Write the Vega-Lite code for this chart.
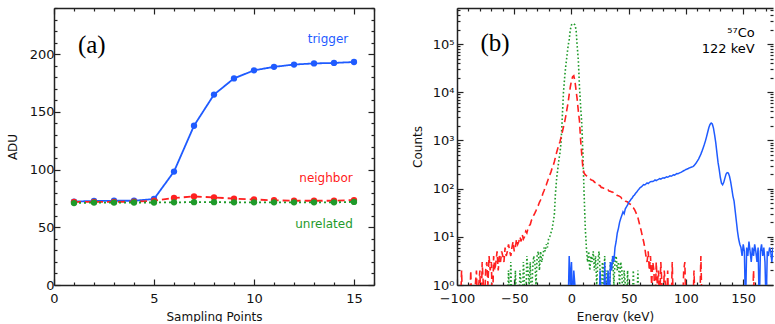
{
  "$schema": "https://vega.github.io/schema/vega-lite/v6.json",
  "padding": {"left": 6, "top": 2, "right": 0, "bottom": 0},
  "bounds": "flush",
  "spacing": 83,
  "config": {
    "view": {"stroke": null},
    "font": "DejaVu Sans",
    "axis": {"grid": false, "domainColor": "#222", "domainWidth": 1.5, "tickColor": "#222", "tickWidth": 1.2, "labelColor": "#111", "titleColor": "#111", "labelFont": "DejaVu Sans", "titleFont": "DejaVu Sans", "labelFontSize": 13, "titleFontSize": 12, "titleFontWeight": "normal", "labelFlush": false, "labelOverlap": false}
  },
  "datasets": {
    "adu": [
      {"sample":1,"series":"trigger","adu":72.3},{"sample":2,"series":"trigger","adu":72.8},{"sample":3,"series":"trigger","adu":73},{"sample":4,"series":"trigger","adu":73},{"sample":5,"series":"trigger","adu":74.5},{"sample":6,"series":"trigger","adu":98.3},{"sample":7,"series":"trigger","adu":138},{"sample":8,"series":"trigger","adu":165},{"sample":9,"series":"trigger","adu":179},{"sample":10,"series":"trigger","adu":186},{"sample":11,"series":"trigger","adu":189},{"sample":12,"series":"trigger","adu":191},{"sample":13,"series":"trigger","adu":192},{"sample":14,"series":"trigger","adu":192.4},{"sample":15,"series":"trigger","adu":193.2},
      {"sample":1,"series":"neighbor","adu":72},{"sample":2,"series":"neighbor","adu":72},{"sample":3,"series":"neighbor","adu":72},{"sample":4,"series":"neighbor","adu":72.2},{"sample":5,"series":"neighbor","adu":73},{"sample":6,"series":"neighbor","adu":75.4},{"sample":7,"series":"neighbor","adu":76.7},{"sample":8,"series":"neighbor","adu":75.9},{"sample":9,"series":"neighbor","adu":74.8},{"sample":10,"series":"neighbor","adu":74.1},{"sample":11,"series":"neighbor","adu":73.4},{"sample":12,"series":"neighbor","adu":73},{"sample":13,"series":"neighbor","adu":73},{"sample":14,"series":"neighbor","adu":73},{"sample":15,"series":"neighbor","adu":73.6},
      {"sample":1,"series":"unrelated","adu":71},{"sample":2,"series":"unrelated","adu":71.4},{"sample":3,"series":"unrelated","adu":71.4},{"sample":4,"series":"unrelated","adu":71.5},{"sample":5,"series":"unrelated","adu":71.5},{"sample":6,"series":"unrelated","adu":71.6},{"sample":7,"series":"unrelated","adu":71.8},{"sample":8,"series":"unrelated","adu":71.8},{"sample":9,"series":"unrelated","adu":71.6},{"sample":10,"series":"unrelated","adu":71.6},{"sample":11,"series":"unrelated","adu":71.6},{"sample":12,"series":"unrelated","adu":71.6},{"sample":13,"series":"unrelated","adu":71.6},{"sample":14,"series":"unrelated","adu":71.6},{"sample":15,"series":"unrelated","adu":72}
    ],
    "green": [
      {"e":-58,"c":0.3},{"e":-56,"c":0.3},{"e":-55,"c":2},{"e":-54,"c":0.3},{"e":-53,"c":3},{"e":-52,"c":0.3},{"e":-50,"c":0.3},{"e":-49,"c":2},{"e":-48,"c":0.3},{"e":-47,"c":1},{"e":-46,"c":0.3},{"e":-45,"c":2},{"e":-44,"c":1},{"e":-43,"c":0.3},{"e":-42,"c":3},{"e":-41,"c":1},{"e":-40,"c":0.3},{"e":-39,"c":4},{"e":-38,"c":2},{"e":-37,"c":1},{"e":-36,"c":3},{"e":-35,"c":0.3},{"e":-34,"c":2},{"e":-33,"c":4},{"e":-32,"c":3},{"e":-31,"c":1},{"e":-30,"c":4},{"e":-29,"c":5},{"e":-28,"c":2},{"e":-27,"c":5},{"e":-26,"c":3},{"e":-25,"c":4},{"e":-24,"c":6},{"e":-23,"c":5},{"e":-22,"c":7},{"e":-21,"c":6},{"e":-20,"c":9},{"e":-19,"c":10},{"e":-18,"c":12},{"e":-17,"c":14},{"e":-16,"c":20},{"e":-15,"c":28},{"e":-14,"c":80},{"e":-13,"c":160},{"e":-12,"c":250},{"e":-11,"c":400},{"e":-10,"c":560},{"e":-9,"c":1000},{"e":-8,"c":3200},{"e":-7,"c":10000},{"e":-6,"c":20000},{"e":-5,"c":35000},{"e":-4,"c":56000},{"e":-3,"c":90000},{"e":-2,"c":125000},{"e":-1,"c":200000},{"e":0,"c":250000},{"e":1,"c":265000},{"e":2,"c":265000},{"e":3,"c":250000},{"e":4,"c":200000},{"e":5,"c":90000},{"e":6,"c":45000},{"e":7,"c":12600},{"e":8,"c":5000},{"e":9,"c":2200},{"e":10,"c":500},{"e":11,"c":80},{"e":12,"c":16},{"e":13,"c":6},{"e":14,"c":3},{"e":15,"c":5},{"e":16,"c":2},{"e":17,"c":4},{"e":18,"c":3},{"e":19,"c":5},{"e":20,"c":2},{"e":21,"c":4},{"e":22,"c":1},{"e":23,"c":3},{"e":24,"c":5},{"e":25,"c":2},{"e":26,"c":0.3},{"e":27,"c":3},{"e":28,"c":1},{"e":29,"c":4},{"e":30,"c":0.3},{"e":31,"c":2},{"e":32,"c":1},{"e":33,"c":0.3},{"e":34,"c":3},{"e":35,"c":2},{"e":36,"c":4},{"e":37,"c":1},{"e":38,"c":3},{"e":39,"c":4},{"e":40,"c":2},{"e":41,"c":3},{"e":42,"c":1},{"e":43,"c":3},{"e":44,"c":2},{"e":45,"c":0.3},{"e":46,"c":2},{"e":47,"c":1},{"e":48,"c":0.3},{"e":49,"c":2},{"e":50,"c":0.3},{"e":53,"c":0.3},{"e":54,"c":2},{"e":55,"c":0.3},{"e":57,"c":0.3},{"e":58,"c":2},{"e":59,"c":0.3}
    ],
    "red": [
      {"e":-97,"c":0.3},{"e":-96,"c":2},{"e":-95,"c":0.3},{"e":-93,"c":0.3},{"e":-92,"c":1},{"e":-91,"c":0.3},{"e":-89,"c":0.3},{"e":-88,"c":2},{"e":-87,"c":0.3},{"e":-85,"c":0.3},{"e":-84,"c":1},{"e":-83,"c":2},{"e":-82,"c":0.3},{"e":-81,"c":1},{"e":-80,"c":2},{"e":-79,"c":0.3},{"e":-78,"c":3},{"e":-77,"c":1},{"e":-76,"c":0.3},{"e":-75,"c":2},{"e":-74,"c":3},{"e":-73,"c":1},{"e":-72,"c":4},{"e":-71,"c":2},{"e":-70,"c":3},{"e":-69,"c":0.3},{"e":-68,"c":4},{"e":-67,"c":2},{"e":-66,"c":3},{"e":-65,"c":5},{"e":-64,"c":2},{"e":-63,"c":4},{"e":-62,"c":3},{"e":-61,"c":5},{"e":-60,"c":4},{"e":-59,"c":3},{"e":-58,"c":6},{"e":-57,"c":4},{"e":-56,"c":5},{"e":-55,"c":7},{"e":-54,"c":5},{"e":-53,"c":4},{"e":-52,"c":6},{"e":-51,"c":8},{"e":-50,"c":5},{"e":-49,"c":6},{"e":-48,"c":9},{"e":-47,"c":7},{"e":-46,"c":8},{"e":-45,"c":10},{"e":-44,"c":8},{"e":-43,"c":11},{"e":-42,"c":9},{"e":-41,"c":10},{"e":-40,"c":13},{"e":-39,"c":12},{"e":-38,"c":15},{"e":-37,"c":17},{"e":-36,"c":18},{"e":-35,"c":22},{"e":-34,"c":24},{"e":-33,"c":28},{"e":-32,"c":31},{"e":-31,"c":35},{"e":-30,"c":40},{"e":-29,"c":45},{"e":-28,"c":52},{"e":-27,"c":58},{"e":-26,"c":66},{"e":-25,"c":79},{"e":-24,"c":90},{"e":-23,"c":105},{"e":-22,"c":120},{"e":-21,"c":140},{"e":-20,"c":165},{"e":-19,"c":190},{"e":-18,"c":220},{"e":-17,"c":260},{"e":-16,"c":300},{"e":-15,"c":360},{"e":-14,"c":450},{"e":-13,"c":560},{"e":-12,"c":680},{"e":-11,"c":820},{"e":-10,"c":950},{"e":-9,"c":1200},{"e":-8,"c":1500},{"e":-7,"c":1900},{"e":-6,"c":2400},{"e":-5,"c":3200},{"e":-4,"c":4400},{"e":-3,"c":6000},{"e":-2,"c":9000},{"e":-1,"c":13000},{"e":0,"c":17500},{"e":1,"c":21000},{"e":2,"c":22000},{"e":3,"c":17000},{"e":4,"c":11000},{"e":5,"c":7000},{"e":6,"c":4000},{"e":7,"c":2500},{"e":8,"c":1000},{"e":9,"c":500},{"e":10,"c":260},{"e":11,"c":210},{"e":12,"c":195},{"e":13,"c":185},{"e":14,"c":178},{"e":15,"c":168},{"e":16,"c":163},{"e":17,"c":152},{"e":18,"c":150},{"e":19,"c":146},{"e":20,"c":137},{"e":21,"c":132},{"e":22,"c":130},{"e":23,"c":119},{"e":24,"c":118},{"e":25,"c":115},{"e":26,"c":106},{"e":27,"c":105},{"e":28,"c":102},{"e":29,"c":101},{"e":30,"c":95},{"e":31,"c":95},{"e":32,"c":94},{"e":33,"c":88},{"e":34,"c":88},{"e":35,"c":85},{"e":36,"c":85},{"e":37,"c":79},{"e":38,"c":78},{"e":39,"c":77},{"e":40,"c":72},{"e":41,"c":71},{"e":42,"c":69},{"e":43,"c":67},{"e":44,"c":62},{"e":45,"c":61},{"e":46,"c":59},{"e":47,"c":55},{"e":48,"c":54},{"e":49,"c":53},{"e":50,"c":49},{"e":51,"c":48},{"e":52,"c":47},{"e":53,"c":42},{"e":54,"c":40},{"e":55,"c":37},{"e":56,"c":33},{"e":57,"c":29},{"e":58,"c":25},{"e":59,"c":20},{"e":60,"c":16},{"e":61,"c":13},{"e":62,"c":10},{"e":63,"c":8},{"e":64,"c":6},{"e":65,"c":4},{"e":66,"c":3},{"e":67,"c":5},{"e":68,"c":2},{"e":69,"c":4},{"e":70,"c":1},{"e":71,"c":3},{"e":72,"c":2},{"e":73,"c":0.3},{"e":74,"c":3},{"e":75,"c":1},{"e":76,"c":2},{"e":77,"c":0.3},{"e":78,"c":3},{"e":79,"c":1},{"e":80,"c":0.3},{"e":81,"c":2},{"e":82,"c":1},{"e":83,"c":0.3},{"e":84,"c":2},{"e":85,"c":0.3},{"e":87,"c":0.3},{"e":88,"c":3},{"e":89,"c":0.3},{"e":91,"c":0.3},{"e":92,"c":1},{"e":93,"c":0.3},{"e":97,"c":0.3},{"e":98,"c":2},{"e":99,"c":3},{"e":100,"c":0.3},{"e":102,"c":0.3},{"e":103,"c":1},{"e":104,"c":0.3},{"e":106,"c":0.3},{"e":107,"c":2},{"e":108,"c":0.3},{"e":112,"c":0.3},{"e":113,"c":4},{"e":114,"c":0.3},{"e":118,"c":0.3},{"e":119,"c":1},{"e":120,"c":0.3},{"e":158,"c":0.3},{"e":159,"c":2},{"e":160,"c":0.3}
    ],
    "blue": [
      {"e":-6,"c":0.3},{"e":-3,"c":0.3},{"e":-2,"c":4},{"e":-1,"c":1},{"e":0,"c":3},{"e":1,"c":0.3},{"e":2,"c":2},{"e":3,"c":1},{"e":4,"c":0.3},{"e":22,"c":0.3},{"e":23,"c":1},{"e":24,"c":0.3},{"e":25,"c":2},{"e":26,"c":0.3},{"e":28,"c":0.3},{"e":29,"c":3},{"e":30,"c":0.3},{"e":31,"c":1},{"e":32,"c":2},{"e":33,"c":0.3},{"e":34,"c":3},{"e":35,"c":2},{"e":36,"c":4},{"e":37,"c":3},{"e":38,"c":6},{"e":39,"c":8},{"e":40,"c":12},{"e":41,"c":15},{"e":42,"c":20},{"e":43,"c":24},{"e":44,"c":28},{"e":45,"c":33},{"e":46,"c":30},{"e":47,"c":38},{"e":48,"c":42},{"e":49,"c":46},{"e":50,"c":52},{"e":51,"c":55},{"e":52,"c":60},{"e":53,"c":64},{"e":54,"c":70},{"e":55,"c":74},{"e":56,"c":80},{"e":57,"c":85},{"e":58,"c":92},{"e":59,"c":98},{"e":60,"c":105},{"e":61,"c":108},{"e":62,"c":115},{"e":63,"c":121},{"e":64,"c":119},{"e":65,"c":125},{"e":66,"c":131},{"e":67,"c":127},{"e":68,"c":134},{"e":69,"c":139},{"e":70,"c":140},{"e":71,"c":141},{"e":72,"c":145},{"e":73,"c":151},{"e":74,"c":147},{"e":75,"c":152},{"e":76,"c":155},{"e":77,"c":161},{"e":78,"c":157},{"e":79,"c":163},{"e":80,"c":168},{"e":81,"c":165},{"e":82,"c":170},{"e":83,"c":176},{"e":84,"c":172},{"e":85,"c":178},{"e":86,"c":184},{"e":87,"c":181},{"e":88,"c":187},{"e":89,"c":194},{"e":90,"c":191},{"e":91,"c":198},{"e":92,"c":205},{"e":93,"c":203},{"e":94,"c":210},{"e":95,"c":215},{"e":96,"c":220},{"e":97,"c":228},{"e":98,"c":235},{"e":99,"c":242},{"e":100,"c":250},{"e":101,"c":255},{"e":102,"c":262},{"e":103,"c":270},{"e":104,"c":275},{"e":105,"c":280},{"e":106,"c":285},{"e":107,"c":300},{"e":108,"c":320},{"e":109,"c":345},{"e":110,"c":375},{"e":111,"c":410},{"e":112,"c":460},{"e":113,"c":520},{"e":114,"c":600},{"e":115,"c":700},{"e":116,"c":820},{"e":117,"c":980},{"e":118,"c":1200},{"e":119,"c":1500},{"e":120,"c":1850},{"e":121,"c":2150},{"e":122,"c":2300},{"e":123,"c":2200},{"e":124,"c":1800},{"e":125,"c":1300},{"e":126,"c":900},{"e":127,"c":560},{"e":128,"c":350},{"e":129,"c":250},{"e":130,"c":170},{"e":131,"c":130},{"e":132,"c":120},{"e":133,"c":135},{"e":134,"c":165},{"e":135,"c":200},{"e":136,"c":215},{"e":137,"c":210},{"e":138,"c":180},{"e":139,"c":140},{"e":140,"c":100},{"e":141,"c":70},{"e":142,"c":55},{"e":143,"c":34},{"e":144,"c":21},{"e":145,"c":13},{"e":146,"c":9},{"e":147,"c":7},{"e":148,"c":6},{"e":149,"c":4},{"e":150,"c":7},{"e":151,"c":5},{"e":152,"c":0.3},{"e":153,"c":6},{"e":154,"c":4},{"e":155,"c":8},{"e":156,"c":5},{"e":157,"c":3},{"e":158,"c":6},{"e":159,"c":4},{"e":160,"c":7},{"e":161,"c":5},{"e":162,"c":3},{"e":163,"c":6},{"e":164,"c":0.3},{"e":165,"c":5},{"e":166,"c":7},{"e":167,"c":4},{"e":168,"c":6},{"e":169,"c":3},{"e":170,"c":0.3},{"e":171,"c":5},{"e":172,"c":4},{"e":173,"c":6},{"e":174,"c":5},{"e":175,"c":3},{"e":176,"c":6}
    ]
  },
  "hconcat": [
    {
      "width": 320,
      "height": 277,
      "layer": [
        {
          "data": {"name": "adu"},
          "mark": {"type": "line", "strokeWidth": 1.8},
          "encoding": {
            "x": {"field": "sample", "type": "quantitative", "scale": {"domain": [0, 16], "nice": false},
              "axis": {"orient": "bottom", "values": [0,1,2,3,4,5,6,7,8,9,10,11,12,13,14,15,16],
                "tickSize": {"condition": {"test": "datum.value % 5 === 0", "value": -6}, "value": -3},
                "labelExpr": "datum.value % 5 === 0 ? datum.label : ''", "labelPadding": 13,
                "title": "Sampling Points", "titleY": 31, "titleBaseline": "middle"}},
            "y": {"field": "adu", "type": "quantitative", "scale": {"domain": [0, 240], "nice": false, "zero": false},
              "axis": {"orient": "left", "values": [0,10,20,30,40,50,60,70,80,90,100,110,120,130,140,150,160,170,180,190,200,210,220,230,240],
                "tickSize": {"condition": {"test": "datum.value % 50 === 0", "value": -6}, "value": -3},
                "labelExpr": "datum.value % 50 === 0 && datum.value < 240 ? datum.label : ''", "labelPadding": 6,
                "title": "ADU", "titleX": -42, "titleY": 138.5, "titleBaseline": "middle"}},
            "color": {"field": "series", "type": "nominal", "scale": {"domain": ["trigger", "neighbor", "unrelated"], "range": ["#1f5bff", "#ff2020", "#1f9a2a"]}, "legend": null},
            "strokeDash": {"field": "series", "type": "nominal", "scale": {"domain": ["trigger", "neighbor", "unrelated"], "range": [[1, 0], [7, 4], [2, 3]]}, "legend": null}
          }
        },
        {
          "data": {"name": "adu"},
          "mark": {"type": "point", "filled": true, "size": 40, "opacity": 1},
          "encoding": {
            "x": {"field": "sample", "type": "quantitative", "scale": {"domain": [0, 16], "nice": false},
              "axis": {"orient": "top", "values": [0,1,2,3,4,5,6,7,8,9,10,11,12,13,14,15,16],
                "tickSize": {"condition": {"test": "datum.value % 5 === 0", "value": -6}, "value": -3},
                "labels": false, "title": null}},
            "y": {"field": "adu", "type": "quantitative", "scale": {"domain": [0, 240], "nice": false, "zero": false},
              "axis": {"orient": "right", "values": [0,10,20,30,40,50,60,70,80,90,100,110,120,130,140,150,160,170,180,190,200,210,220,230,240],
                "tickSize": {"condition": {"test": "datum.value % 50 === 0", "value": -6}, "value": -3},
                "labels": false, "title": null}},
            "color": {"field": "series", "type": "nominal", "scale": {"domain": ["trigger", "neighbor", "unrelated"], "range": ["#1f5bff", "#ff2020", "#1f9a2a"]}, "legend": null}
          }
        },
        {
          "data": {"values": [
            {"x": 13.7, "y": 213, "label": "trigger", "series": "trigger"},
            {"x": 13.6, "y": 93, "label": "neighbor", "series": "neighbor"},
            {"x": 13.5, "y": 53, "label": "unrelated", "series": "unrelated"}
          ]},
          "mark": {"type": "text", "font": "DejaVu Sans", "fontSize": 12, "align": "center", "baseline": "middle"},
          "encoding": {
            "x": {"field": "x", "type": "quantitative", "scale": {"domain": [0, 16], "nice": false}, "axis": null},
            "y": {"field": "y", "type": "quantitative", "scale": {"domain": [0, 240], "nice": false, "zero": false}, "axis": null},
            "text": {"field": "label"},
            "color": {"field": "series", "type": "nominal", "scale": {"domain": ["trigger", "neighbor", "unrelated"], "range": ["#1f5bff", "#ff2020", "#1f9a2a"]}, "legend": null}
          }
        },
        {
          "data": {"values": [{"x": 1.89, "y": 208, "label": "(a)"}]},
          "mark": {"type": "text", "font": "Liberation Serif", "fontSize": 25, "align": "center", "baseline": "middle", "color": "#000"},
          "encoding": {
            "x": {"field": "x", "type": "quantitative", "scale": {"domain": [0, 16], "nice": false}, "axis": null},
            "y": {"field": "y", "type": "quantitative", "scale": {"domain": [0, 240], "nice": false, "zero": false}, "axis": null},
            "text": {"field": "label"}
          }
        }
      ],
      "resolve": {"axis": {"x": "independent", "y": "independent"}}
    },
    {
      "width": 316,
      "height": 277,
      "layer": [
        {
          "data": {"name": "green"},
          "mark": {"type": "line", "strokeWidth": 1.6, "color": "#1f9a2a", "strokeDash": [1.6, 2.2], "clip": true},
          "encoding": {
            "x": {"field": "e", "type": "quantitative", "scale": {"domain": [-100, 176], "nice": false, "zero": false},
              "axis": {"orient": "bottom", "values": [-100,-90,-80,-70,-60,-50,-40,-30,-20,-10,0,10,20,30,40,50,60,70,80,90,100,110,120,130,140,150,160,170],
                "tickSize": {"condition": {"test": "datum.value % 50 === 0", "value": -6}, "value": -3},
                "labelExpr": "datum.value % 50 === 0 ? datum.label : ''", "labelPadding": 13,
                "title": "Energy (keV)", "titleY": 31, "titleBaseline": "middle"}},
            "y": {"field": "c", "type": "quantitative", "scale": {"type": "log", "domain": [1, 560000], "nice": false},
              "axis": {"orient": "left", "values": [1,2,3,4,5,6,7,8,9,10,20,30,40,50,60,70,80,90,100,200,300,400,500,600,700,800,900,1000,2000,3000,4000,5000,6000,7000,8000,9000,10000,20000,30000,40000,50000,60000,70000,80000,90000,100000,200000,300000,400000,500000],
                "tickSize": {"condition": {"test": "indexof([1,10,100,1000,10000,100000], datum.value) >= 0", "value": -6}, "value": -3},
                "labelExpr": "datum.value == 1 ? '10⁰' : datum.value == 10 ? '10¹' : datum.value == 100 ? '10²' : datum.value == 1000 ? '10³' : datum.value == 10000 ? '10⁴' : datum.value == 100000 ? '10⁵' : ''",
                "labelPadding": 9, "title": "Counts", "titleX": -40, "titleY": 138.5, "titleBaseline": "middle"}}
          }
        },
        {
          "data": {"name": "red"},
          "mark": {"type": "line", "strokeWidth": 1.6, "color": "#ff2020", "strokeDash": [7, 4], "clip": true},
          "encoding": {
            "x": {"field": "e", "type": "quantitative", "scale": {"domain": [-100, 176], "nice": false, "zero": false}, "axis": null},
            "y": {"field": "c", "type": "quantitative", "scale": {"type": "log", "domain": [1, 560000], "nice": false}, "axis": null}
          }
        },
        {
          "data": {"name": "blue"},
          "mark": {"type": "line", "strokeWidth": 1.5, "color": "#1f5bff", "clip": true},
          "encoding": {
            "x": {"field": "e", "type": "quantitative", "scale": {"domain": [-100, 176], "nice": false, "zero": false}, "axis": null},
            "y": {"field": "c", "type": "quantitative", "scale": {"type": "log", "domain": [1, 560000], "nice": false}, "axis": null}
          }
        },
        {
          "data": {"values": [{"e": -66.7, "c": 105000, "label": "(b)"}]},
          "mark": {"type": "text", "font": "Liberation Serif", "fontSize": 25, "align": "center", "baseline": "middle", "color": "#000"},
          "encoding": {
            "x": {"field": "e", "type": "quantitative", "scale": {"domain": [-100, 176], "nice": false, "zero": false},
              "axis": {"orient": "top", "values": [-100,-90,-80,-70,-60,-50,-40,-30,-20,-10,0,10,20,30,40,50,60,70,80,90,100,110,120,130,140,150,160,170],
                "tickSize": {"condition": {"test": "datum.value % 50 === 0", "value": -6}, "value": -3},
                "labels": false, "title": null}},
            "y": {"field": "c", "type": "quantitative", "scale": {"type": "log", "domain": [1, 560000], "nice": false},
              "axis": {"orient": "right", "domain": false, "values": [1,2,3,4,5,6,7,8,9,10,20,30,40,50,60,70,80,90,100,200,300,400,500,600,700,800,900,1000,2000,3000,4000,5000,6000,7000,8000,9000,10000,20000,30000,40000,50000,60000,70000,80000,90000,100000,200000,300000,400000,500000],
                "tickSize": {"condition": {"test": "indexof([1,10,100,1000,10000,100000], datum.value) >= 0", "value": -6}, "value": -3},
                "labels": false, "title": null}},
            "text": {"field": "label"}
          }
        },
        {
          "data": {"values": [{"e": 160, "c": 170000, "label": "⁵⁷Co"}, {"e": 160, "c": 80000, "label": "122 keV"}]},
          "mark": {"type": "text", "font": "DejaVu Sans", "fontSize": 13, "align": "right", "baseline": "middle", "color": "#000"},
          "encoding": {
            "x": {"field": "e", "type": "quantitative", "scale": {"domain": [-100, 176], "nice": false, "zero": false}, "axis": null},
            "y": {"field": "c", "type": "quantitative", "scale": {"type": "log", "domain": [1, 560000], "nice": false}, "axis": null},
            "text": {"field": "label"}
          }
        }
      ],
      "resolve": {"axis": {"x": "independent", "y": "independent"}}
    }
  ]
}
